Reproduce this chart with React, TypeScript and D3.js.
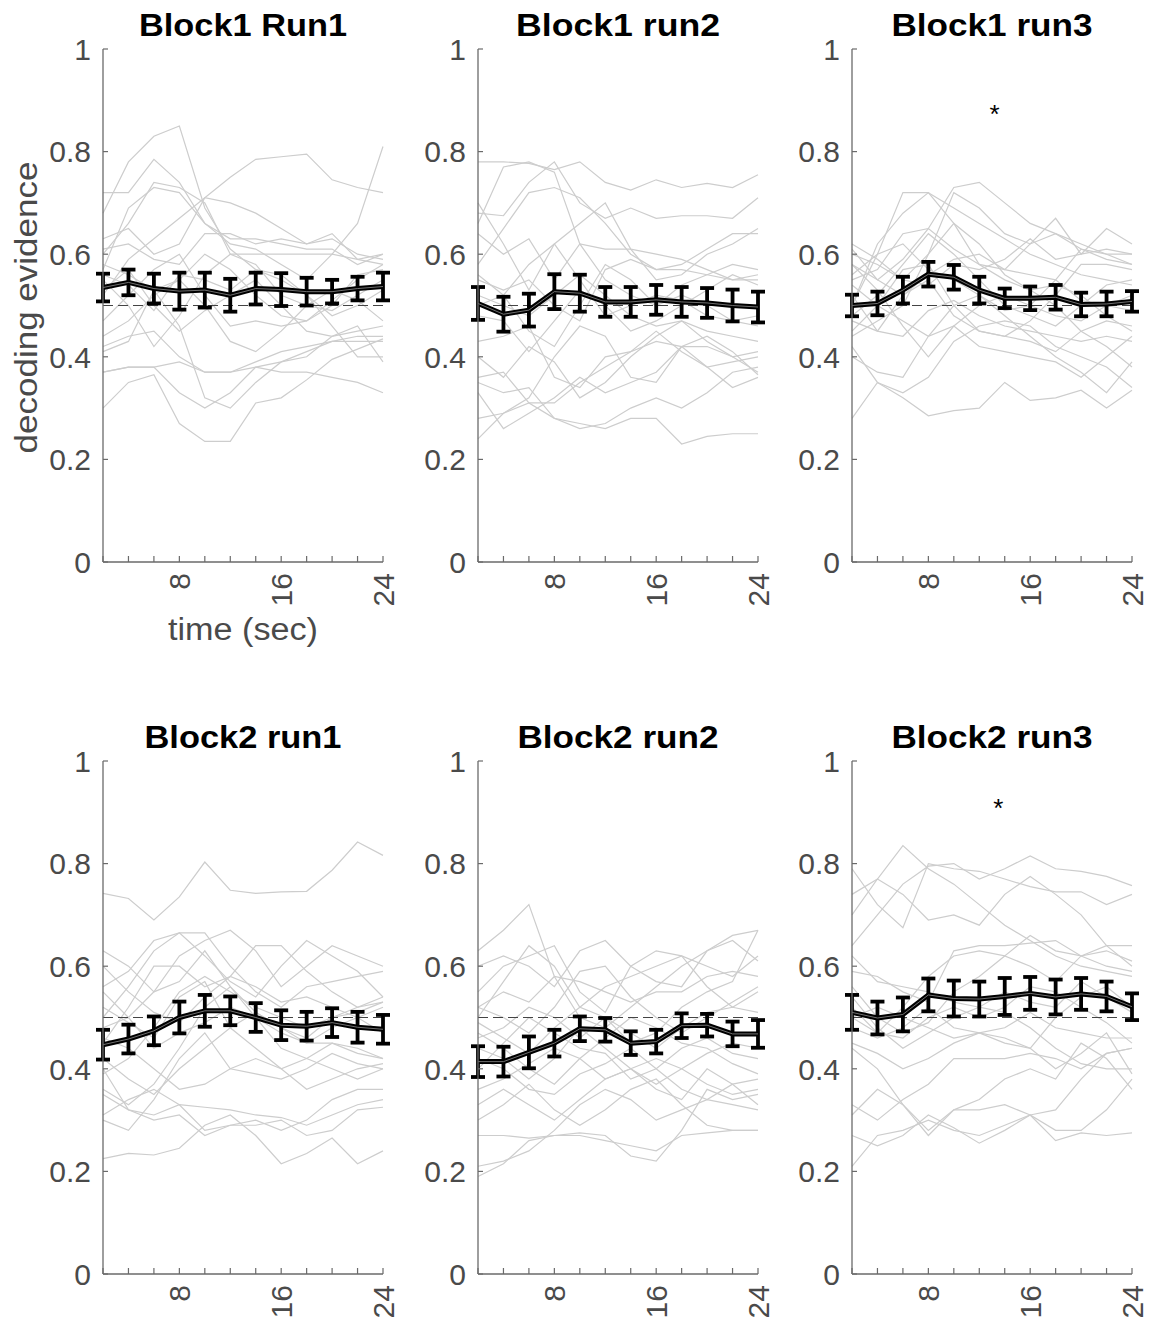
import React from 'react';
import * as d3 from 'd3';

// ---------------- data ----------------
const timeSec = [2, 4, 6, 8, 10, 12, 14, 16, 18, 20, 22, 24];
const xTickValues = [2, 4, 6, 8, 10, 12, 14, 16, 18, 20, 22, 24];
const xLabeledTicks = [8, 16, 24];
const yTickValues = [0, 0.2, 0.4, 0.6, 0.8, 1];
const yTickLabels = ['0', '0.2', '0.4', '0.6', '0.8', '1'];
const chanceLevel = 0.5;

const panelTitles = ['Block1 Run1', 'Block1 run2', 'Block1 run3', 'Block2 run1', 'Block2 run2', 'Block2 run3'];

const b1r1Mean = [0.535, 0.545, 0.533, 0.528, 0.530, 0.520, 0.533, 0.531, 0.527, 0.527, 0.533, 0.537];
const b1r1Sem = [0.027, 0.025, 0.029, 0.036, 0.034, 0.032, 0.031, 0.032, 0.027, 0.023, 0.023, 0.027];
const b1r2Mean = [0.504, 0.483, 0.491, 0.527, 0.524, 0.507, 0.507, 0.511, 0.507, 0.505, 0.500, 0.497];
const b1r2Sem = [0.032, 0.034, 0.032, 0.034, 0.036, 0.029, 0.029, 0.029, 0.029, 0.029, 0.031, 0.030];
const b1r3Mean = [0.500, 0.504, 0.530, 0.561, 0.555, 0.530, 0.514, 0.514, 0.516, 0.502, 0.503, 0.508];
const b1r3Sem = [0.021, 0.023, 0.026, 0.024, 0.024, 0.026, 0.019, 0.023, 0.024, 0.023, 0.024, 0.020];
const b2r1Mean = [0.447, 0.458, 0.474, 0.500, 0.513, 0.513, 0.500, 0.485, 0.483, 0.490, 0.481, 0.477];
const b2r1Sem = [0.029, 0.028, 0.028, 0.031, 0.031, 0.028, 0.028, 0.029, 0.028, 0.028, 0.030, 0.028];
const b2r2Mean = [0.414, 0.414, 0.432, 0.450, 0.478, 0.476, 0.450, 0.453, 0.484, 0.485, 0.468, 0.468];
const b2r2Sem = [0.030, 0.029, 0.031, 0.026, 0.024, 0.023, 0.023, 0.023, 0.024, 0.022, 0.024, 0.027];
const b2r3Mean = [0.510, 0.499, 0.506, 0.544, 0.537, 0.536, 0.541, 0.547, 0.540, 0.546, 0.541, 0.521];
const b2r3Sem = [0.034, 0.032, 0.033, 0.032, 0.035, 0.034, 0.036, 0.032, 0.034, 0.031, 0.029, 0.026];

const b1r1Subjects = [
  [0.68, 0.78, 0.83, 0.85, 0.69, 0.61, 0.57, 0.56, 0.52, 0.48, 0.50, 0.53],
  [0.72, 0.72, 0.785, 0.74, 0.66, 0.62, 0.61, 0.58, 0.55, 0.60, 0.59, 0.60],
  [0.52, 0.59, 0.63, 0.67, 0.71, 0.75, 0.785, 0.79, 0.795, 0.745, 0.73, 0.72],
  [0.60, 0.66, 0.74, 0.73, 0.70, 0.60, 0.60, 0.60, 0.60, 0.60, 0.66, 0.81],
  [0.57, 0.69, 0.73, 0.72, 0.66, 0.63, 0.63, 0.62, 0.61, 0.61, 0.58, 0.60],
  [0.63, 0.65, 0.60, 0.62, 0.71, 0.70, 0.68, 0.65, 0.62, 0.63, 0.60, 0.59],
  [0.61, 0.62, 0.59, 0.58, 0.64, 0.64, 0.62, 0.63, 0.62, 0.64, 0.59, 0.58],
  [0.30, 0.35, 0.365, 0.27, 0.235, 0.235, 0.31, 0.32, 0.355, 0.395, 0.415, 0.435],
  [0.37, 0.38, 0.38, 0.39, 0.37, 0.37, 0.38, 0.37, 0.37, 0.36, 0.35, 0.33],
  [0.42, 0.44, 0.45, 0.40, 0.37, 0.37, 0.39, 0.41, 0.42, 0.43, 0.43, 0.43],
  [0.41, 0.43, 0.53, 0.46, 0.32, 0.30, 0.35, 0.39, 0.40, 0.44, 0.46, 0.39],
  [0.37, 0.38, 0.38, 0.33, 0.30, 0.33, 0.38, 0.39, 0.41, 0.43, 0.44, 0.44],
  [0.55, 0.50, 0.42, 0.48, 0.56, 0.60, 0.58, 0.52, 0.50, 0.49, 0.52, 0.55],
  [0.58, 0.56, 0.53, 0.55, 0.60, 0.57, 0.52, 0.48, 0.47, 0.50, 0.56, 0.57],
  [0.47, 0.52, 0.57, 0.60, 0.52, 0.46, 0.47, 0.46, 0.47, 0.51, 0.55, 0.58],
  [0.53, 0.57, 0.50, 0.45, 0.49, 0.52, 0.55, 0.50, 0.45, 0.44, 0.45, 0.46],
  [0.44, 0.47, 0.52, 0.55, 0.50, 0.43, 0.41, 0.45, 0.50, 0.53, 0.51, 0.47],
  [0.56, 0.54, 0.49, 0.56, 0.55, 0.53, 0.57, 0.55, 0.52, 0.46, 0.40, 0.40],
];

const b1r2Subjects = [
  [0.78, 0.78, 0.777, 0.765, 0.78, 0.74, 0.725, 0.745, 0.73, 0.738, 0.73, 0.755],
  [0.66, 0.77, 0.78, 0.76, 0.62, 0.55, 0.52, 0.50, 0.54, 0.56, 0.58, 0.57],
  [0.68, 0.675, 0.74, 0.78, 0.70, 0.67, 0.69, 0.67, 0.675, 0.675, 0.67, 0.71],
  [0.58, 0.65, 0.72, 0.73, 0.71, 0.66, 0.60, 0.57, 0.58, 0.61, 0.64, 0.64],
  [0.70, 0.62, 0.53, 0.62, 0.66, 0.70, 0.61, 0.55, 0.56, 0.60, 0.62, 0.65],
  [0.64, 0.60, 0.63, 0.55, 0.62, 0.61, 0.61, 0.60, 0.59, 0.57, 0.55, 0.56],
  [0.55, 0.53, 0.55, 0.50, 0.47, 0.57, 0.59, 0.57, 0.57, 0.56, 0.55, 0.55],
  [0.48, 0.47, 0.41, 0.47, 0.53, 0.50, 0.45, 0.47, 0.50, 0.53, 0.56, 0.54],
  [0.43, 0.44, 0.46, 0.36, 0.34, 0.40, 0.41, 0.45, 0.41, 0.38, 0.39, 0.40],
  [0.40, 0.36, 0.42, 0.39, 0.32, 0.35, 0.40, 0.44, 0.47, 0.43, 0.40, 0.41],
  [0.36, 0.37, 0.31, 0.31, 0.35, 0.38, 0.41, 0.43, 0.42, 0.38, 0.34, 0.36],
  [0.28, 0.29, 0.32, 0.40, 0.46, 0.44, 0.36, 0.35, 0.42, 0.42, 0.40, 0.37],
  [0.24, 0.29, 0.31, 0.28, 0.27, 0.26, 0.28, 0.28, 0.23, 0.245, 0.25, 0.25],
  [0.35, 0.33, 0.34, 0.28, 0.26, 0.27, 0.30, 0.32, 0.30, 0.33, 0.37, 0.38],
  [0.33, 0.26, 0.29, 0.32, 0.36, 0.33, 0.35, 0.37, 0.42, 0.44, 0.41, 0.365],
  [0.52, 0.50, 0.48, 0.52, 0.56, 0.52, 0.48, 0.46, 0.47, 0.45, 0.44, 0.43],
  [0.50, 0.52, 0.58, 0.62, 0.55, 0.48, 0.50, 0.52, 0.51, 0.48, 0.47, 0.48],
  [0.56, 0.52, 0.45, 0.42, 0.50, 0.58, 0.55, 0.50, 0.52, 0.50, 0.47, 0.46],
];

const b1r3Subjects = [
  [0.50, 0.60, 0.72, 0.72, 0.66, 0.58, 0.55, 0.53, 0.54, 0.52, 0.48, 0.45],
  [0.55, 0.57, 0.64, 0.65, 0.73, 0.74, 0.70, 0.66, 0.64, 0.62, 0.60, 0.58],
  [0.50, 0.62, 0.68, 0.72, 0.69, 0.66, 0.63, 0.60, 0.58, 0.56, 0.55, 0.54],
  [0.60, 0.58, 0.55, 0.60, 0.72, 0.69, 0.64, 0.62, 0.64, 0.61, 0.59, 0.58],
  [0.61, 0.55, 0.59, 0.65, 0.61, 0.58, 0.57, 0.62, 0.67, 0.60, 0.65, 0.62],
  [0.62, 0.59, 0.55, 0.54, 0.58, 0.57, 0.59, 0.63, 0.59, 0.60, 0.61, 0.60],
  [0.56, 0.60, 0.62, 0.57, 0.55, 0.52, 0.49, 0.50, 0.55, 0.61, 0.60, 0.60],
  [0.45, 0.50, 0.57, 0.58, 0.50, 0.45, 0.44, 0.47, 0.52, 0.58, 0.58, 0.57],
  [0.47, 0.45, 0.52, 0.55, 0.48, 0.45, 0.44, 0.43, 0.41, 0.45, 0.47, 0.46],
  [0.52, 0.45, 0.44, 0.49, 0.51, 0.48, 0.46, 0.45, 0.44, 0.43, 0.44, 0.43],
  [0.54, 0.50, 0.47, 0.44, 0.46, 0.42, 0.41, 0.40, 0.39, 0.36, 0.40, 0.44],
  [0.42, 0.35, 0.33, 0.36, 0.43, 0.46, 0.47, 0.46, 0.42, 0.40, 0.38, 0.34],
  [0.28, 0.35, 0.32, 0.285, 0.295, 0.30, 0.35, 0.315, 0.32, 0.335, 0.30, 0.335],
  [0.40, 0.37, 0.36, 0.44, 0.50, 0.52, 0.48, 0.44, 0.40, 0.37, 0.33, 0.39],
  [0.58, 0.53, 0.46, 0.40, 0.46, 0.50, 0.52, 0.50, 0.48, 0.47, 0.50, 0.52],
  [0.48, 0.52, 0.58, 0.64, 0.60, 0.55, 0.50, 0.48, 0.46, 0.50, 0.54, 0.55],
  [0.44, 0.47, 0.50, 0.60, 0.66, 0.62, 0.56, 0.53, 0.50, 0.45, 0.42, 0.38],
  [0.58, 0.55, 0.52, 0.56, 0.59, 0.60, 0.57, 0.56, 0.55, 0.51, 0.50, 0.49],
];

const b2r1Subjects = [
  [0.742, 0.732, 0.69, 0.735, 0.803, 0.748, 0.742, 0.745, 0.746, 0.787, 0.842, 0.816],
  [0.63, 0.60, 0.55, 0.62, 0.65, 0.67, 0.63, 0.56, 0.60, 0.64, 0.62, 0.60],
  [0.56, 0.59, 0.65, 0.665, 0.665, 0.60, 0.55, 0.52, 0.56, 0.57, 0.58, 0.59],
  [0.50, 0.56, 0.63, 0.665, 0.62, 0.57, 0.54, 0.60, 0.65, 0.62, 0.59, 0.54],
  [0.45, 0.52, 0.60, 0.60, 0.56, 0.58, 0.64, 0.64, 0.59, 0.55, 0.52, 0.54],
  [0.48, 0.50, 0.55, 0.57, 0.63, 0.56, 0.51, 0.48, 0.46, 0.50, 0.52, 0.53],
  [0.39, 0.42, 0.48, 0.55, 0.58, 0.55, 0.52, 0.50, 0.48, 0.50, 0.51, 0.53],
  [0.52, 0.49, 0.46, 0.54, 0.57, 0.48, 0.44, 0.40, 0.42, 0.45, 0.44, 0.42],
  [0.42, 0.38, 0.35, 0.40, 0.44, 0.48, 0.51, 0.48, 0.45, 0.45, 0.43, 0.42],
  [0.36, 0.33, 0.37, 0.44, 0.52, 0.56, 0.50, 0.44, 0.42, 0.40, 0.38, 0.40],
  [0.30, 0.28, 0.34, 0.42, 0.47, 0.40, 0.39, 0.38, 0.40, 0.43, 0.41, 0.40],
  [0.35, 0.32, 0.31, 0.33, 0.325, 0.32, 0.31, 0.305, 0.29, 0.31, 0.33, 0.34],
  [0.31, 0.34, 0.36, 0.33, 0.28, 0.29, 0.29, 0.30, 0.27, 0.28, 0.32, 0.325],
  [0.40, 0.32, 0.30, 0.31, 0.27, 0.29, 0.30, 0.28, 0.30, 0.34, 0.36, 0.36],
  [0.225, 0.235, 0.232, 0.245, 0.29, 0.31, 0.27, 0.215, 0.235, 0.265, 0.215, 0.24],
  [0.46, 0.44, 0.40, 0.36, 0.37, 0.40, 0.42, 0.40, 0.36, 0.38, 0.40, 0.41],
  [0.55, 0.50, 0.44, 0.47, 0.49, 0.52, 0.50, 0.47, 0.45, 0.48, 0.50, 0.52],
  [0.60, 0.55, 0.51, 0.49, 0.54, 0.58, 0.56, 0.53, 0.54, 0.52, 0.50, 0.47],
];

const b2r2Subjects = [
  [0.63, 0.67, 0.72, 0.58, 0.50, 0.48, 0.52, 0.56, 0.60, 0.63, 0.66, 0.67],
  [0.60, 0.62, 0.60, 0.56, 0.63, 0.65, 0.60, 0.57, 0.56, 0.63, 0.65, 0.61],
  [0.55, 0.60, 0.62, 0.64, 0.55, 0.51, 0.60, 0.63, 0.62, 0.60, 0.58, 0.62],
  [0.50, 0.57, 0.64, 0.60, 0.52, 0.56, 0.58, 0.60, 0.62, 0.56, 0.52, 0.55],
  [0.52, 0.55, 0.53, 0.58, 0.57, 0.55, 0.53, 0.55, 0.55, 0.58, 0.59, 0.58],
  [0.52, 0.50, 0.47, 0.52, 0.59, 0.60, 0.54, 0.50, 0.47, 0.50, 0.53, 0.56],
  [0.46, 0.48, 0.52, 0.50, 0.46, 0.50, 0.45, 0.47, 0.52, 0.55, 0.57, 0.67],
  [0.40, 0.45, 0.50, 0.47, 0.44, 0.43, 0.38, 0.40, 0.44, 0.46, 0.43, 0.42],
  [0.44, 0.42, 0.38, 0.42, 0.48, 0.44, 0.40, 0.37, 0.40, 0.43, 0.45, 0.44],
  [0.36, 0.38, 0.41, 0.44, 0.42, 0.38, 0.40, 0.42, 0.40, 0.37, 0.35, 0.36],
  [0.42, 0.40, 0.36, 0.35, 0.39, 0.41, 0.44, 0.40, 0.36, 0.34, 0.37, 0.38],
  [0.33, 0.36, 0.33, 0.30, 0.34, 0.38, 0.40, 0.36, 0.34, 0.40, 0.37, 0.33],
  [0.30, 0.33, 0.37, 0.32, 0.29, 0.32, 0.36, 0.38, 0.33, 0.29, 0.28, 0.28],
  [0.27, 0.27, 0.265, 0.27, 0.275, 0.27, 0.23, 0.22, 0.28, 0.36, 0.34, 0.35],
  [0.19, 0.215, 0.26, 0.27, 0.27, 0.26, 0.25, 0.24, 0.27, 0.275, 0.28, 0.28],
  [0.21, 0.22, 0.24, 0.28, 0.33, 0.36, 0.34, 0.30, 0.32, 0.34, 0.33, 0.32],
  [0.49, 0.46, 0.43, 0.48, 0.52, 0.50, 0.47, 0.44, 0.48, 0.51, 0.52, 0.51],
  [0.47, 0.44, 0.40, 0.37, 0.42, 0.46, 0.50, 0.48, 0.45, 0.44, 0.41, 0.39],
];

const b2r3Subjects = [
  [0.74, 0.77, 0.835, 0.79, 0.76, 0.72, 0.68, 0.65, 0.62, 0.60, 0.59, 0.58],
  [0.64, 0.70, 0.76, 0.795, 0.80, 0.77, 0.79, 0.815, 0.79, 0.785, 0.775, 0.757],
  [0.79, 0.72, 0.675, 0.80, 0.79, 0.785, 0.77, 0.755, 0.745, 0.745, 0.72, 0.74],
  [0.70, 0.77, 0.74, 0.69, 0.70, 0.68, 0.74, 0.775, 0.74, 0.70, 0.64, 0.60],
  [0.59, 0.58, 0.55, 0.53, 0.63, 0.64, 0.64, 0.645, 0.65, 0.62, 0.60, 0.59],
  [0.50, 0.47, 0.52, 0.58, 0.62, 0.63, 0.62, 0.66, 0.63, 0.62, 0.64, 0.64],
  [0.56, 0.50, 0.47, 0.49, 0.55, 0.58, 0.62, 0.60, 0.57, 0.62, 0.63, 0.61],
  [0.52, 0.47, 0.46, 0.50, 0.52, 0.50, 0.52, 0.56, 0.55, 0.52, 0.49, 0.45],
  [0.48, 0.46, 0.48, 0.52, 0.48, 0.47, 0.48, 0.51, 0.48, 0.47, 0.46, 0.46],
  [0.54, 0.48, 0.44, 0.47, 0.50, 0.52, 0.51, 0.48, 0.44, 0.41, 0.40, 0.40],
  [0.45, 0.43, 0.40, 0.42, 0.45, 0.47, 0.46, 0.44, 0.40, 0.43, 0.47, 0.39],
  [0.33, 0.30, 0.34, 0.37, 0.42, 0.42, 0.42, 0.43, 0.42, 0.40, 0.43, 0.44],
  [0.44, 0.40, 0.33, 0.28, 0.32, 0.34, 0.38, 0.40, 0.38, 0.45, 0.42, 0.36],
  [0.31, 0.36, 0.33, 0.27, 0.32, 0.32, 0.33, 0.31, 0.32, 0.38, 0.43, 0.44],
  [0.27, 0.25, 0.27, 0.31, 0.285, 0.255, 0.28, 0.31, 0.28, 0.28, 0.32, 0.38],
  [0.21, 0.27, 0.28, 0.30, 0.28, 0.27, 0.29, 0.31, 0.26, 0.275, 0.27, 0.275],
  [0.62, 0.57, 0.56, 0.55, 0.53, 0.52, 0.55, 0.53, 0.52, 0.57, 0.54, 0.51],
  [0.50, 0.52, 0.50, 0.48, 0.46, 0.47, 0.45, 0.44, 0.50, 0.54, 0.56, 0.52],
];

const panelMeans = [b1r1Mean, b1r2Mean, b1r3Mean, b2r1Mean, b2r2Mean, b2r3Mean];
const panelSems = [b1r1Sem, b1r2Sem, b1r3Sem, b2r1Sem, b2r2Sem, b2r3Sem];
const panelSubjects = [b1r1Subjects, b1r2Subjects, b1r3Subjects, b2r1Subjects, b2r2Subjects, b2r3Subjects];

// significance markers (panel index, time, value)
const starPanel = [2, 5];
const starTime = [13.2, 13.5];
const starValue = [0.885, 0.92];

// ---------------- layout ----------------
const W = 1158;
const H = 1320;
const colLefts = [103, 478, 852];
const rowTops = [49, 761];
const plotW = 280;
const plotH = 513;
const titleLengths = [208, 204, 201, 197, 201, 201];
const FONT = 'Liberation Sans, Arial, Helvetica, sans-serif';
const axisColor = '#6a6a6a';
const textColor = '#4a4a4a';

function Panel({ idx }: { idx: number }) {
  const col = idx % 3;
  const row = Math.floor(idx / 3);
  const left = colLefts[col];
  const top = rowTops[row];
  const x = d3.scaleLinear().domain([2, 24]).range([left, left + plotW]);
  const y = d3.scaleLinear().domain([0, 1]).range([top + plotH, top]);
  const line = d3
    .line<number>()
    .x((_, k) => x(timeSec[k]))
    .y((v) => y(v));
  const mean = panelMeans[idx];
  const sem = panelSems[idx];
  const subjects = panelSubjects[idx];
  const bottom = top + plotH;
  const capHalf = 7;

  return (
    <g>
      {/* title */}
      <text
        x={left + plotW / 2}
        y={top - 13}
        textAnchor="middle"
        fontFamily={FONT}
        fontWeight="bold"
        fontSize={31}
        fill="#000"
        textLength={titleLengths[idx]}
        lengthAdjust="spacingAndGlyphs"
      >
        {panelTitles[idx]}
      </text>

      {/* individual subjects */}
      {subjects.map((s, j) => (
        <path key={j} d={line(s) || ''} fill="none" stroke="#cdcdcd" strokeWidth={1.2} />
      ))}

      {/* chance line */}
      <line
        x1={x(2)}
        x2={x(24)}
        y1={y(chanceLevel)}
        y2={y(chanceLevel)}
        stroke="#444"
        strokeWidth={1}
        strokeDasharray="10,5"
      />

      {/* error bars */}
      {mean.map((m, k) => {
        const cx = x(timeSec[k]);
        const yHi = y(m + sem[k]);
        const yLo = y(m - sem[k]);
        return (
          <g key={k} stroke="#000" strokeWidth={3.8}>
            <line x1={cx} x2={cx} y1={yHi} y2={yLo} />
            <line x1={cx - capHalf} x2={cx + capHalf} y1={yHi} y2={yHi} />
            <line x1={cx - capHalf} x2={cx + capHalf} y1={yLo} y2={yLo} />
          </g>
        );
      })}
      <path d={line(mean) || ''} fill="none" stroke="#000" strokeWidth={5} strokeLinejoin="round" />

      {/* thin mean overlay */}
      <path d={line(mean) || ''} fill="none" stroke="#8c8c8c" strokeWidth={0.8} />

      {/* axes */}
      <line x1={left} x2={left} y1={top} y2={bottom} stroke={axisColor} strokeWidth={1.3} />
      <line x1={left} x2={left + plotW} y1={bottom} y2={bottom} stroke={axisColor} strokeWidth={1.3} />
      {yTickValues.map((v, k) => (
        <g key={'y' + k}>
          <line x1={left} x2={left + 5} y1={y(v)} y2={y(v)} stroke={axisColor} strokeWidth={1.2} />
          <text
            x={left - 12}
            y={y(v)}
            dy="0.36em"
            textAnchor="end"
            fontFamily={FONT}
            fontSize={30}
            fill={textColor}
          >
            {yTickLabels[k]}
          </text>
        </g>
      ))}
      {xTickValues.map((v, k) => (
        <line
          key={'x' + k}
          x1={x(v)}
          x2={x(v)}
          y1={bottom}
          y2={bottom - 6}
          stroke={axisColor}
          strokeWidth={1.2}
        />
      ))}
      {xLabeledTicks.map((v) => (
        <text
          key={'xl' + v}
          transform={`translate(${x(v)},${bottom + 11}) rotate(-90)`}
          dy="0.36em"
          textAnchor="end"
          fontFamily={FONT}
          fontSize={30}
          fill={textColor}
        >
          {String(v)}
        </text>
      ))}

      {idx === 0 && (
        <>
          <text
            x={left + plotW / 2}
            y={bottom + 78}
            textAnchor="middle"
            fontFamily={FONT}
            fontSize={31}
            fill={textColor}
            textLength={150}
            lengthAdjust="spacingAndGlyphs"
          >
            time (sec)
          </text>
          <text
            transform={`translate(37,${top + plotH / 2 + 2}) rotate(-90)`}
            textAnchor="middle"
            fontFamily={FONT}
            fontSize={31}
            fill={textColor}
            textLength={292}
            lengthAdjust="spacingAndGlyphs"
          >
            decoding evidence
          </text>
        </>
      )}

      {starPanel.map((p, k) =>
        p === idx ? (
          <text
            key={'s' + k}
            x={x(starTime[k])}
            y={y(starValue[k])}
            dy="0.57em"
            textAnchor="middle"
            fontFamily={FONT}
            fontSize={26}
            fill="#000"
          >
            *
          </text>
        ) : null
      )}
    </g>
  );
}

export default function App() {
  return (
    <svg
      width={W}
      height={H}
      viewBox={`0 0 ${W} ${H}`}
      style={{ position: 'absolute', left: 0, top: 0, background: '#fff' }}
    >
      <rect x={0} y={0} width={W} height={H} fill="#fff" />
      {panelTitles.map((_, i) => (
        <Panel key={i} idx={i} />
      ))}
    </svg>
  );
}
